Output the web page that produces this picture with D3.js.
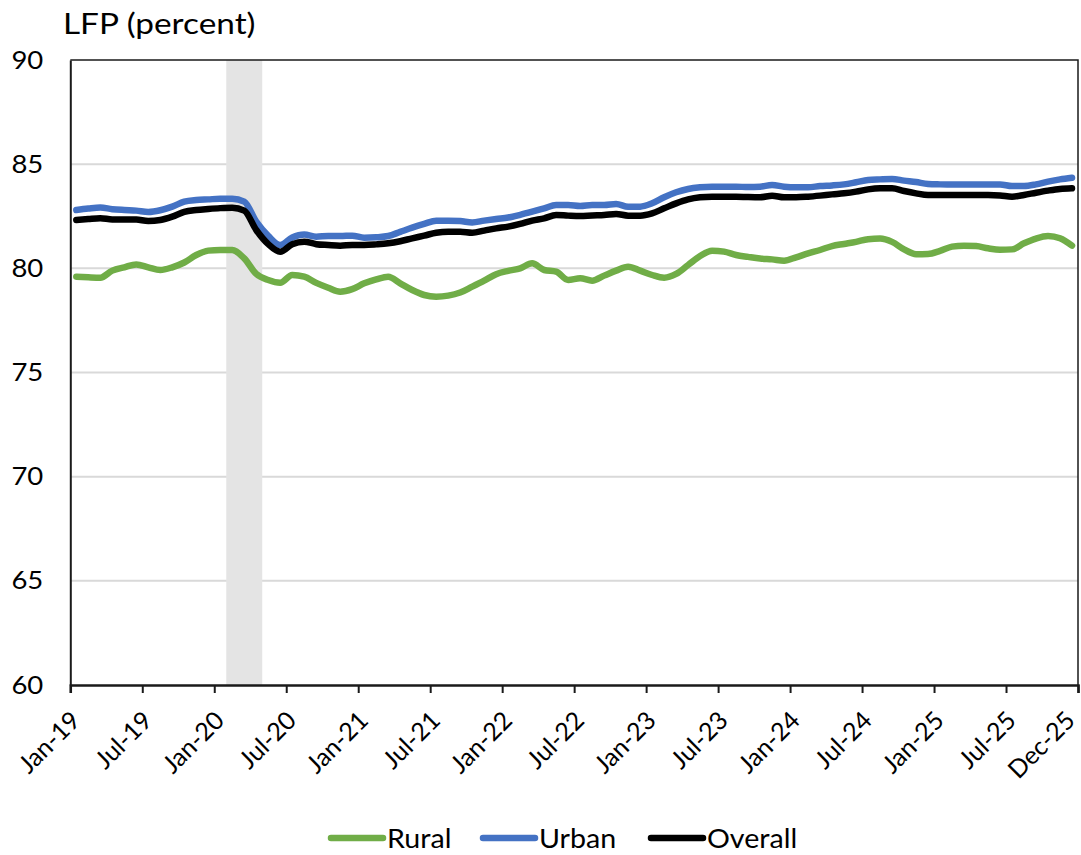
<!DOCTYPE html>
<html>
<head>
<meta charset="utf-8">
<script src="https://cdn.jsdelivr.net/npm/d3@7"></script>
<style>
  html, body { margin: 0; padding: 0; background: #fff; }
  svg { display: block; font-family: Lato, "Open Sans", sans-serif; }
</style>
</head>
<body>
<svg id="chart" width="1081" height="855"></svg>
<script>
// Monthly labour force participation, Jan-2019 .. Dec-2025
const rural = [
  79.60, 79.57, 79.55, 79.89, 80.05, 80.19, 80.05, 79.92, 80.05, 80.28, 80.64, 80.85,
  80.88, 80.88, 80.48, 79.73, 79.44, 79.31, 79.68, 79.60, 79.30, 79.07, 78.88, 79.00,
  79.28, 79.47, 79.60, 79.28, 78.96, 78.72, 78.64, 78.69, 78.84, 79.12, 79.41, 79.72,
  79.88, 80.00, 80.24, 79.92, 79.84, 79.44, 79.52, 79.41, 79.65, 79.89, 80.08, 79.89,
  79.68, 79.55, 79.73, 80.16, 80.59, 80.85, 80.80, 80.64, 80.55, 80.47, 80.43, 80.37,
  80.53, 80.72, 80.88, 81.07, 81.17, 81.27, 81.40, 81.43, 81.27, 80.91, 80.68, 80.69,
  80.84, 81.04, 81.09, 81.07, 80.96, 80.89, 80.91, 81.20, 81.43, 81.55, 81.44, 81.09
];
const urban = [
  82.80, 82.87, 82.92, 82.84, 82.80, 82.77, 82.71, 82.79, 82.96, 83.20, 83.28, 83.31,
  83.34, 83.34, 83.20, 82.24, 81.56, 81.12, 81.48, 81.62, 81.52, 81.55, 81.55, 81.57,
  81.47, 81.49, 81.55, 81.75, 81.95, 82.13, 82.29, 82.29, 82.27, 82.20, 82.29, 82.37,
  82.44, 82.57, 82.72, 82.88, 83.04, 83.04, 82.99, 83.04, 83.04, 83.09, 82.96, 82.96,
  83.12, 83.41, 83.65, 83.81, 83.89, 83.92, 83.92, 83.92, 83.90, 83.92, 84.00, 83.92,
  83.89, 83.89, 83.95, 83.98, 84.03, 84.13, 84.24, 84.27, 84.29, 84.21, 84.14, 84.05,
  84.03, 84.02, 84.02, 84.03, 84.03, 84.03, 83.95, 83.95, 84.03, 84.16, 84.27, 84.35
];
const overall = [
  82.32, 82.37, 82.41, 82.35, 82.35, 82.34, 82.27, 82.32, 82.48, 82.71, 82.80, 82.85,
  82.89, 82.91, 82.77, 81.84, 81.16, 80.80, 81.16, 81.28, 81.16, 81.12, 81.09, 81.12,
  81.12, 81.15, 81.20, 81.30, 81.44, 81.57, 81.71, 81.76, 81.76, 81.71, 81.81, 81.92,
  82.00, 82.13, 82.29, 82.40, 82.56, 82.53, 82.51, 82.54, 82.56, 82.61, 82.53, 82.53,
  82.64, 82.88, 83.12, 83.31, 83.41, 83.44, 83.44, 83.44, 83.42, 83.41, 83.49, 83.41,
  83.41, 83.44, 83.49, 83.55, 83.60, 83.68, 83.79, 83.84, 83.84, 83.71, 83.60, 83.52,
  83.52, 83.52, 83.52, 83.52, 83.52, 83.50, 83.44, 83.52, 83.63, 83.73, 83.81, 83.84
];
// Axis labels every six months; the last one closes the period
const tickLabels = [
  "Jan-19", "Jul-19", "Jan-20", "Jul-20", "Jan-21", "Jul-21", "Jan-22", "Jul-22",
  "Jan-23", "Jul-23", "Jan-24", "Jul-24", "Jan-25", "Jul-25", "Dec-25"
];
const yTicks = [60, 65, 70, 75, 80, 85, 90];
// Recession shading, in month offsets from Jan-2019 (Feb-2020 through Apr-2020)
const recession = [13, 16];

const seriesNames = ["Rural", "Urban", "Overall"];
const seriesColors = ["#70ad47", "#4472c4", "#000000"];
const seriesData = [rural, urban, overall];

const svg = d3.select("#chart");
const plotL = 70.3, plotR = 1078, plotT = 60, plotB = 685;

// Month offset scale: each month occupies one unit, points sit mid-month
const x = d3.scaleLinear().domain([0, rural.length]).range([plotL, plotR]);
const y = d3.scaleLinear().domain([60, 90]).range([plotB, plotT]);

// Horizontal gridlines
svg.append("g")
  .selectAll("line")
  .data(yTicks.filter(v => v > 60 && v < 90))
  .join("line")
  .attr("x1", plotL).attr("x2", plotR)
  .attr("y1", d => y(d)).attr("y2", d => y(d))
  .attr("stroke", "#d9d9d9").attr("stroke-width", 2);

// Recession band
svg.append("rect")
  .attr("x", x(recession[0]))
  .attr("y", plotT)
  .attr("width", x(recession[1]) - x(recession[0]))
  .attr("height", plotB - plotT)
  .attr("fill", "#e4e4e4");

// Plot frame (top and right)
svg.append("path")
  .attr("d", `M${plotL},${plotT}H${plotR}V${plotB}`)
  .attr("fill", "none").attr("stroke", "#1a1a1a").attr("stroke-width", 1.5);

// Y axis
const yAxis = svg.append("g")
  .attr("transform", `translate(${plotL},0)`)
  .call(d3.axisLeft(y).tickValues(yTicks).tickSize(0).tickPadding(0).tickFormat(d3.format("d")));
yAxis.select(".domain").attr("stroke", "#1a1a1a").attr("stroke-width", 2);
yAxis.selectAll("text")
  .attr("font-size", 25).attr("fill", "#000").attr("font-family", "Lato, sans-serif")
  .attr("x", 0)
  .attr("transform", "translate(-27,0) scale(1.1,1)");

// X axis
const xTickVals = tickLabels.map((d, i) => Math.min(i * 6, rural.length));
const xAxis = svg.append("g")
  .attr("transform", `translate(0,${plotB})`)
  .call(d3.axisBottom(x).tickValues(xTickVals).tickSize(8).tickFormat((d, i) => tickLabels[i]));
xAxis.select(".domain").attr("stroke", "#1a1a1a").attr("stroke-width", 2.5);
xAxis.selectAll(".tick line").attr("stroke", "#1a1a1a").attr("stroke-width", 2);
xAxis.selectAll("text")
  .attr("font-size", 25).attr("fill", "#000").attr("font-family", "Lato, sans-serif")
  .attr("text-anchor", "end")
  .attr("dy", 0).attr("y", 0)
  .attr("transform", d => `translate(${Math.min(11, 1076 - x(d))},37) rotate(-45)`);

// Series lines
const line = d3.line()
  .x((d, i) => x(i + 0.5))
  .y(d => y(d))
  .curve(d3.curveMonotoneX);

svg.append("g")
  .selectAll("path")
  .data(seriesData)
  .join("path")
  .attr("d", d => line(d))
  .attr("fill", "none")
  .attr("stroke", (d, i) => seriesColors[i])
  .attr("stroke-width", 6.5)
  .attr("stroke-linejoin", "round")
  .attr("stroke-linecap", "round");

// Title
svg.append("text")
  .attr("transform", "translate(63,34) scale(1.15,1)")
  .attr("font-size", 29)
  .attr("fill", "#000")
  .text("LFP (percent)");

// Legend
const legendX = [328, 480, 648];
const legend = svg.append("g").attr("transform", "translate(0,838)");
const items = legend.selectAll("g")
  .data(seriesNames)
  .join("g")
  .attr("transform", (d, i) => `translate(${legendX[i]},0)`);
items.append("line")
  .attr("x1", 3).attr("x2", 55)
  .attr("y1", 0).attr("y2", 0)
  .attr("stroke", (d, i) => seriesColors[i])
  .attr("stroke-width", 6.5)
  .attr("stroke-linecap", "round");
items.append("text")
  .attr("transform", "translate(59,9.5) scale(1.1,1)")
  .attr("font-size", 26)
  .attr("fill", "#000")
  .text(d => d);
</script>
</body>
</html>
